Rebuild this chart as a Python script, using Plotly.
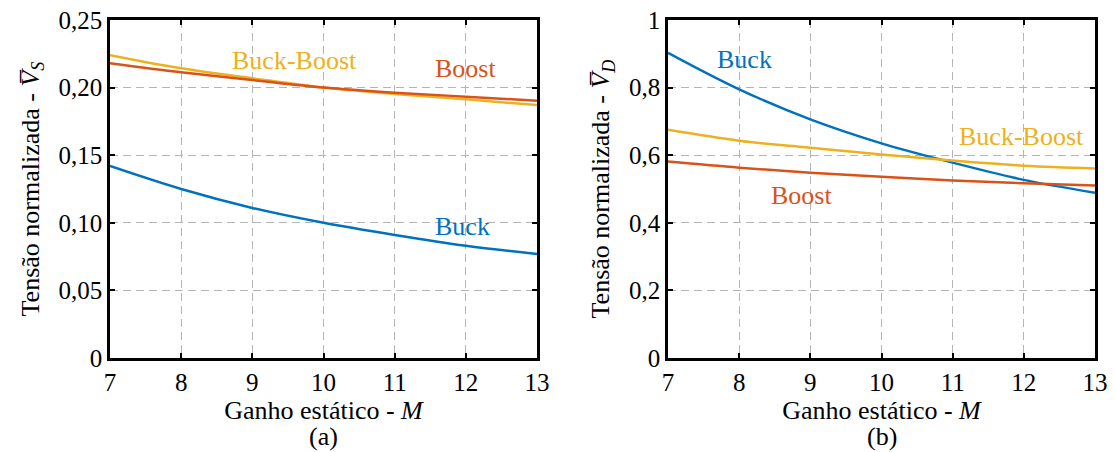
import plotly.graph_objects as go
from plotly.subplots import make_subplots

M = [7, 8, 9, 10, 11, 12, 13]

# (a) Normalized switch voltage
vs_buck = [0.142, 0.125, 0.111, 0.100, 0.091, 0.083, 0.077]
vs_boost = [0.218, 0.2113, 0.2056, 0.200, 0.1962, 0.1933, 0.1903]
vs_buckboost = [0.224, 0.2143, 0.2069, 0.200, 0.1953, 0.1913, 0.1871]

# (b) Normalized diode voltage
vd_buck = [0.903, 0.795, 0.706, 0.635, 0.578, 0.527, 0.489]
vd_boost = [0.581, 0.563, 0.548, 0.536, 0.525, 0.517, 0.510]
vd_buckboost = [0.675, 0.643, 0.622, 0.602, 0.584, 0.569, 0.561]

x_ticks = [7, 8, 9, 10, 11, 12, 13]
ya_ticks = [0, 0.05, 0.10, 0.15, 0.20, 0.25]
ya_text = ["0", "0,05", "0,10", "0,15", "0,20", "0,25"]
yb_ticks = [0, 0.2, 0.4, 0.6, 0.8, 1.0]
yb_text = ["0", "0,2", "0,4", "0,6", "0,8", "1"]

BLUE = "#0072BD"
RED = "#D95319"
YELLOW = "#EDB120"
FONT = "Liberation Serif"

fig = make_subplots(rows=1, cols=2, horizontal_spacing=0.133)

def add(x, y, color, col):
    fig.add_trace(go.Scatter(x=x, y=y, mode="lines", line=dict(color=color, width=2.5, shape="spline"),
                             showlegend=False, hoverinfo="skip"), row=1, col=col)

add(M, vs_buck, BLUE, 1)
add(M, vs_buckboost, YELLOW, 1)
add(M, vs_boost, RED, 1)
add(M, vd_buck, BLUE, 2)
add(M, vd_buckboost, YELLOW, 2)
add(M, vd_boost, RED, 2)

axis_common = dict(showline=True, mirror="ticks", linecolor="black", linewidth=2.5,
                   ticks="inside", ticklen=5, tickwidth=1.5, tickcolor="black",
                   showgrid=True, gridcolor="#b5b5b5", griddash="8px,5px", gridwidth=1.2,
                   zeroline=False, automargin=False,
                   tickfont=dict(family=FONT, size=25, color="black"))

for col in (1, 2):
    fig.update_xaxes(range=[7, 13], tickvals=x_ticks, ticktext=[str(v) for v in x_ticks],
                     title=dict(text="Ganho estático - <i>M</i>", font=dict(family=FONT, size=26, color="black"), standoff=2),
                     row=1, col=col, **axis_common)

fig.update_yaxes(range=[0, 0.25], tickvals=ya_ticks, ticktext=ya_text,
                 title=dict(text="Tensão normalizada - <i>V̅</i><sub><i>S</i></sub>", font=dict(family=FONT, size=26, color="black"), standoff=12),
                 row=1, col=1, **axis_common)
fig.update_yaxes(range=[0, 1], tickvals=yb_ticks, ticktext=yb_text,
                 title=dict(text="Tensão normalizada - <i>V̅</i><sub><i>D</i></sub>", font=dict(family=FONT, size=26, color="black"), standoff=12),
                 row=1, col=2, **axis_common)

def label(text, x, y, color, xref, yref):
    fig.add_annotation(text=text, x=x, y=y, xref=xref, yref=yref, showarrow=False,
                       font=dict(family=FONT, size=26, color=color))

label("Buck-Boost", 9.59, 0.2204, YELLOW, "x", "y")
label("Boost", 12.0, 0.2145, RED, "x", "y")
label("Buck", 11.95, 0.0969, BLUE, "x", "y")
label("Buck", 8.08, 0.882, BLUE, "x2", "y2")
label("Buck-Boost", 11.97, 0.654, YELLOW, "x2", "y2")
label("Boost", 8.88, 0.482, RED, "x2", "y2")

fig.add_annotation(text="(a)", x=10, y=-0.231, xref="x", yref="paper", showarrow=False,
                   yanchor="middle", font=dict(family=FONT, size=26, color="black"))
fig.add_annotation(text="(b)", x=10, y=-0.231, xref="x2", yref="paper", showarrow=False,
                   yanchor="middle", font=dict(family=FONT, size=26, color="black"))

fig.update_layout(width=1114, height=452, margin=dict(l=110, r=19, t=20, b=94),
                  plot_bgcolor="white", paper_bgcolor="white",
                  font=dict(family=FONT, color="black"))

fig.write_html("out.html", config={"displayModeBar": False},
               post_script="document.body.style.margin='0px';document.body.style.overflow='hidden';")
